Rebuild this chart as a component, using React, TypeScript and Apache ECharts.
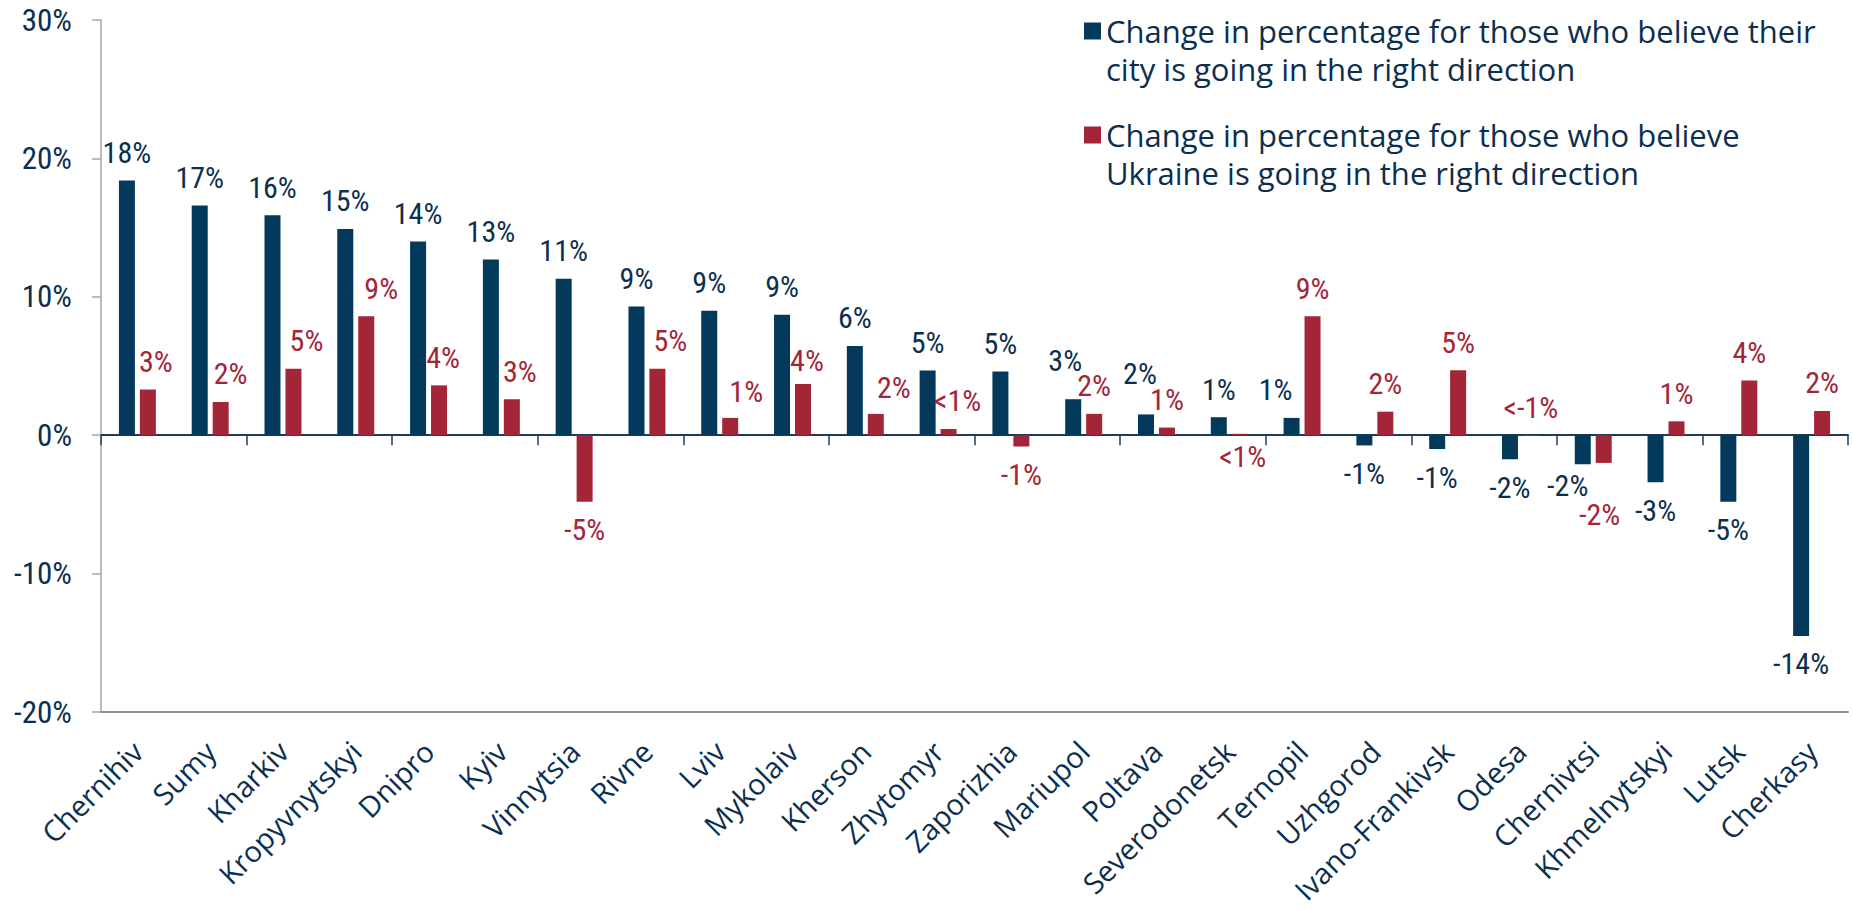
import React, { useEffect, useRef } from "react";
import * as echarts from "echarts";

const categories = [
  "Chernihiv", "Sumy", "Kharkiv", "Kropyvnytskyi", "Dnipro", "Kyiv", "Vinnytsia", "Rivne",
  "Lviv", "Mykolaiv", "Kherson", "Zhytomyr", "Zaporizhia", "Mariupol", "Poltava", "Severodonetsk",
  "Ternopil", "Uzhgorod", "Ivano-Frankivsk", "Odesa", "Chernivtsi", "Khmelnytskyi", "Lutsk", "Cherkasy",
];

const cityChange = [
  18.4, 16.6, 15.9, 14.9, 14.0, 12.7, 11.3, 9.3,
  9.0, 8.7, 6.45, 4.67, 4.6, 2.6, 1.5, 1.3,
  1.25, -0.74, -1.0, -1.74, -2.1, -3.4, -4.8, -14.5,
];
const cityLabels = [
  "18%", "17%", "16%", "15%", "14%", "13%", "11%", "9%",
  "9%", "9%", "6%", "5%", "5%", "3%", "2%", "1%",
  "1%", "-1%", "-1%", "-2%", "-2%", "-3%", "-5%", "-14%",
];

const ukraineChange = [
  3.3, 2.4, 4.8, 8.6, 3.6, 2.6, -4.8, 4.8,
  1.25, 3.7, 1.54, 0.45, -0.82, 1.54, 0.55, 0.1,
  8.6, 1.7, 4.7, -0.05, -2.0, 1.0, 3.95, 1.75,
];
const ukraineLabels = [
  "3%", "2%", "5%", "9%", "4%", "3%", "-5%", "5%",
  "1%", "4%", "2%", "<1%", "-1%", "2%", "1%", "<1%",
  "9%", "2%", "5%", "<-1%", "-2%", "1%", "4%", "2%",
];

const yTicks = { min: -20, max: 30, interval: 10 };

const CITY_NAME = "Change in percentage for those who believe their\ncity is going in the right direction";
const UKR_NAME = "Change in percentage for those who believe\nUkraine is going in the right direction";

const NAVY = "#033A5C";
const RED = "#A22538";
const TEXT = "#0C2F50";
const NUM_FONT = "'Liberation Sans Narrow', 'Roboto Condensed', 'Open Sans', sans-serif";
const TXT_FONT = "'Open Sans', 'Noto Sans', sans-serif";

// legend marker: a 17px square level with the first of two 38px text lines
// (the extra move-to points only stretch the icon's box to the text height)
const LEGEND_ICON = "path://M0,0M0,76M0,10.5L17,10.5L17,27.5L0,27.5Z";

// label placement tweaks (style only, keyed by category)
const cityLabelTweaks: Record<string, any> = {
  Mariupol: { offset: [-8, -11] },
  Poltava: { offset: [-6, -13] },
  Ternopil: { offset: [-16, 0] },
  Chernivtsi: { offset: [-15, -7] },
};
const ukraineLabelTweaks: Record<string, any> = {
  Chernihiv: { offset: [8, 0] },
  Sumy: { offset: [10, 0] },
  Kharkiv: { offset: [13, 0] },
  Kropyvnytskyi: { offset: [15, 0] },
  Dnipro: { offset: [4, 0] },
  Kyiv: { offset: [8, 0] },
  Rivne: { offset: [13, 0] },
  Lviv: { offset: [16, 2] },
  Mykolaiv: { offset: [4, 5] },
  Kherson: { offset: [18, 2] },
  Zhytomyr: { offset: [9, 0] },
  Severodonetsk: { position: "bottom", distance: 6, offset: [3, 0] },
  Odesa: { position: "top" },
  Chernivtsi: { offset: [-4, 24] },
};

function buildData(values: number[], tweaks: Record<string, any>) {
  return values.map((v, i) => {
    const t = tweaks[categories[i]] || {};
    return {
      value: v,
      label: { position: v < 0 ? "bottom" : "top", ...t },
    };
  });
}

function buildOption() {
  const legendBase = {
    left: 1084,
    orient: "vertical",
    icon: LEGEND_ICON,
    itemWidth: 17,
    itemHeight: 76,
    padding: 0,
    selectedMode: false,
    textStyle: {
      color: TEXT,
      fontSize: 31,
      fontFamily: TXT_FONT,
      lineHeight: 38,
    },
  };
  const labelBase = {
    show: true,
    fontSize: 30,
    lineHeight: 30,
    fontFamily: NUM_FONT,
    distance: 13,
  };
  return {
    animation: false,
    backgroundColor: "#ffffff",
    grid: {
      left: 101, right: 5, top: 20, bottom: 198,
      containLabel: false,
      outerBoundsMode: "none",
    },
    legend: [
      { ...legendBase, top: 12, data: [CITY_NAME] },
      { ...legendBase, top: 116, data: [UKR_NAME] },
    ],
    xAxis: [
      {
        type: "category",
        data: categories,
        axisLine: { onZero: true, lineStyle: { color: "#1D3C5C", width: 2 } },
        axisTick: { show: true, length: 10, lineStyle: { color: "#1D3C5C", width: 1.5 } },
        axisLabel: { show: false },
        splitLine: { show: false },
      },
      {
        type: "category",
        data: categories,
        position: "bottom",
        axisLine: { onZero: false, lineStyle: { color: "#8C8C8C", width: 2 } },
        axisTick: { show: false },
        axisLabel: {
          interval: 0,
          rotate: 45,
          margin: 34,
          fontSize: 29,
          fontFamily: TXT_FONT,
          color: TEXT,
        },
        splitLine: { show: false },
      },
    ],
    yAxis: {
      type: "value",
      min: yTicks.min,
      max: yTicks.max,
      interval: yTicks.interval,
      axisLine: { show: true, lineStyle: { color: "#A6A6A6", width: 1.5 } },
      axisTick: { show: true, length: 9, lineStyle: { color: "#A6A6A6", width: 1.5 } },
      splitLine: { show: false },
      axisLabel: {
        formatter: "{value}%",
        fontSize: 31,
        fontFamily: NUM_FONT,
        color: TEXT,
        margin: 29,
      },
    },
    series: [
      {
        name: CITY_NAME,
        type: "bar",
        xAxisIndex: 0,
        barWidth: 16,
        barGap: "31%",
        itemStyle: { color: NAVY },
        label: {
          ...labelBase,
          color: TEXT,
          formatter: (p: any) => cityLabels[p.dataIndex],
        },
        data: buildData(cityChange, cityLabelTweaks),
      },
      {
        name: UKR_NAME,
        type: "bar",
        xAxisIndex: 0,
        barWidth: 16,
        barGap: "31%",
        itemStyle: { color: RED },
        label: {
          ...labelBase,
          color: RED,
          formatter: (p: any) => ukraineLabels[p.dataIndex],
        },
        data: buildData(ukraineChange, ukraineLabelTweaks),
      },
    ],
  };
}

export default function App() {
  const ref = useRef<HTMLDivElement>(null);
  useEffect(() => {
    if (!ref.current) return;
    const chart = echarts.init(ref.current, null, { renderer: "svg" });
    chart.setOption(buildOption() as any);
    return () => chart.dispose();
  }, []);
  return (
    <div
      ref={ref}
      style={{ position: "absolute", left: 0, top: 0, width: 1853, height: 910, background: "#fff" }}
    />
  );
}
